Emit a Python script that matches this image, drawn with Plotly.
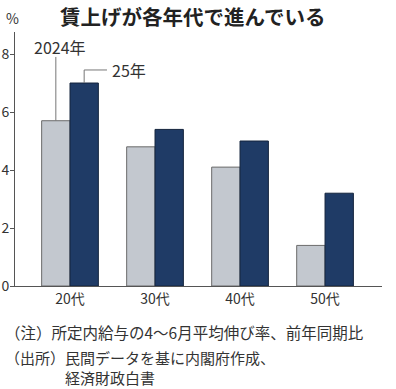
import plotly.graph_objects as go

categories = ["20代", "30代", "40代", "50代"]
values_2024 = [5.7, 4.8, 4.1, 1.4]
values_2025 = [7.0, 5.4, 5.0, 3.2]
y_ticks = [0, 2, 4, 6, 8]

FONT = "Noto Sans CJK JP"
TXT = "#333333"
W, H = 396, 389
ML, MR, MT, MB = 15, 14, 32, 103

fig = go.Figure()
fig.add_trace(go.Bar(x=categories, y=values_2024, name="2024年",
                     marker=dict(color="#c3c8cf", line=dict(color="#6b6b6b", width=1))))
fig.add_trace(go.Bar(x=categories, y=values_2025, name="25年",
                     marker=dict(color="#1f3b66", line=dict(color="#14243d", width=1))))

fig.update_layout(
    width=W, height=H,
    margin=dict(l=ML, r=MR, t=MT, b=MB, autoexpand=False),
    paper_bgcolor="white", plot_bgcolor="white",
    barmode="group", bargap=0.333, bargroupgap=0,
    showlegend=False,
    font=dict(family=FONT, color=TXT),
    xaxis=dict(range=[-0.647, 3.67], showline=True, linecolor="#555555", linewidth=1,
               ticks="", tickfont=dict(size=14, color=TXT, family=FONT), showgrid=False,
               automargin=False),
    yaxis=dict(range=[0, 8.76], showline=True, linecolor="#555555", linewidth=1,
               tickvals=y_ticks, ticks="outside", ticklen=4, tickcolor="#555555",
               ticklabelstandoff=-2,
               tickfont=dict(size=14, color=TXT, family=FONT), showgrid=False, zeroline=False,
               automargin=False),
)

# leader lines
off = 0.1667
fig.add_shape(type="line", xref="x", yref="y", x0=-off, x1=-off, y0=values_2024[0], y1=7.9,
              line=dict(color="#777777", width=1))
fig.add_shape(type="line", xref="x", yref="y", x0=off, x1=off, y0=values_2025[0], y1=7.45,
              line=dict(color="#777777", width=1))
fig.add_shape(type="line", xref="x", yref="y", x0=off, x1=0.435, y0=7.45, y1=7.45,
              line=dict(color="#777777", width=1))

fig.add_annotation(x=-0.12, y=8.24, xref="x", yref="y", text="2024年", showarrow=False,
                   font=dict(size=16, color=TXT), xanchor="center", yanchor="middle")
fig.add_annotation(x=0.465, y=7.45, xref="x", yref="y", text="25年", showarrow=False,
                   font=dict(size=16, color=TXT), xanchor="left", yanchor="middle")

pw, ph = W - ML - MR, H - MT - MB
def px(x): return (x - ML) / pw
def py(y): return (H - MB - y) / ph

fig.add_annotation(x=px(192), y=py(16), xref="paper", yref="paper",
                   text="<b>賃上げが各年代で進んでいる</b>", showarrow=False,
                   font=dict(size=20.5, color="#222222"), xanchor="center", yanchor="middle")
fig.add_annotation(x=px(4), y=py(18), xref="paper", yref="paper", text="%", showarrow=False,
                   font=dict(size=14, color=TXT), xanchor="left", yanchor="middle")

fig.add_annotation(x=px(3), y=py(332), xref="paper", yref="paper",
                   text="（注）所定内給与の4～6月平均伸び率、前年同期比", showarrow=False,
                   font=dict(size=15.5, color=TXT), xanchor="left", yanchor="middle")
fig.add_annotation(x=px(3), y=py(368), xref="paper", yref="paper",
                   text="（出所）民間データを基に内閣府作成、<br>\u3000\u3000\u3000\u3000経済財政白書",
                   showarrow=False, align="left",
                   font=dict(size=15, color=TXT), xanchor="left", yanchor="middle")

fig.write_html("out.html", config={"displayModeBar": False},
               post_script="document.body.style.margin='0';document.body.style.overflow='hidden';")
